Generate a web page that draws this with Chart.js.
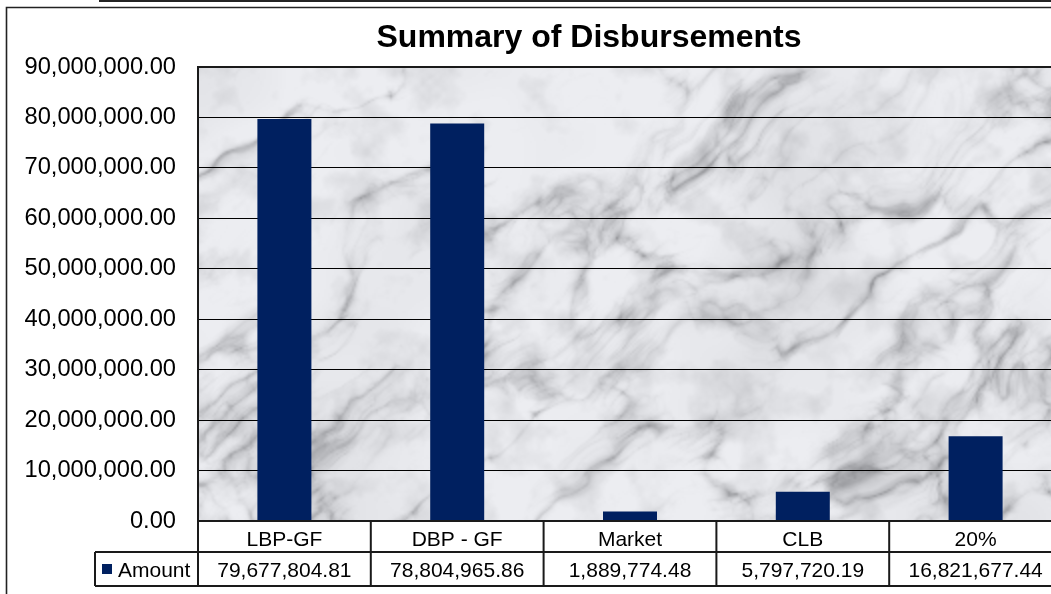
<!DOCTYPE html>
<html>
<head>
<meta charset="utf-8">
<script src="https://cdn.jsdelivr.net/npm/chart.js@4.4.1/dist/chart.umd.min.js"></script>
<style>
  html, body { margin: 0; padding: 0; width: 1051px; height: 594px; overflow: hidden; background: #fff; }
  #wrap { position: absolute; left: 0; top: 0; width: 1180px; height: 594px; }
  canvas { display: block; }
</style>
</head>
<body>
<div id="wrap"><canvas id="c" width="1180" height="594"></canvas></div>
<script>
// ---- data ----
const chartTitle = "Summary of Disbursements";
const categories = ["LBP-GF", "DBP - GF", "Market", "CLB", "20%"];
const seriesName = "Amount";
const amounts = [79677804.81, 78804965.86, 1889774.48, 5797720.19, 16821677.44];
const yMin = 0;
const yMax = 90000000;
const yStep = 10000000;

const FONT = '"Liberation Sans", Arial, sans-serif';
const BAR_COLOR = '#002060';
const LINE_COLOR = '#1a1a1a';

function fmt2(v) {
  return v.toLocaleString('en-US', { minimumFractionDigits: 2, maximumFractionDigits: 2 });
}

// ---- marble texture (decorative background only) ----
function hash(x, y) {
  let h = Math.imul(x | 0, 374761393) + Math.imul(y | 0, 668265263);
  h = Math.imul(h ^ (h >>> 13), 1274126177);
  h = h ^ (h >>> 16);
  return (h >>> 0) / 4294967295;
}
function smooth(t) { return t * t * (3 - 2 * t); }
function vnoise(x, y) {
  const xi = Math.floor(x), yi = Math.floor(y);
  const xf = x - xi, yf = y - yi;
  const a = hash(xi, yi), b = hash(xi + 1, yi), c = hash(xi, yi + 1), d = hash(xi + 1, yi + 1);
  const u = smooth(xf), v = smooth(yf);
  return a + (b - a) * u + (c - a) * v + (a - b - c + d) * u * v;
}
function fbm(x, y, oct) {
  let s = 0, amp = 0.5, f = 1, norm = 0;
  for (let i = 0; i < oct; i++) {
    s += amp * vnoise(x * f, y * f);
    norm += amp; amp *= 0.5; f *= 2;
  }
  return s / norm;
}
function ridged(x, y, oct) {
  let s = 0, amp = 0.5, f = 1, norm = 0;
  for (let i = 0; i < oct; i++) {
    const n = 1 - Math.abs(2 * vnoise(x * f, y * f) - 1);
    s += amp * n * n;
    norm += amp; amp *= 0.5; f *= 2.1;
  }
  return s / norm;
}
let marbleCache = null;
function makeMarble(W, H) {
  const sc = 2;
  const w = Math.ceil(W / sc), h = Math.ceil(H / sc);
  const cv = document.createElement('canvas');
  cv.width = w; cv.height = h;
  const ctx = cv.getContext('2d');
  const img = ctx.createImageData(w, h);
  const d = img.data;
  for (let py = 0; py < h; py++) {
    for (let px = 0; px < w; px++) {
      const X = px * sc, Y = py * sc;
      // domain warp, stretched along a diagonal
      const wx = fbm(X / 120 + 3, Y / 120 + 9, 4);
      const wy = fbm(X / 120 + 21, Y / 120 + 4, 4);
      const u = (X * 0.8 - Y * 0.6) / 95 + wx * 1.6;
      const v = (X * 0.6 + Y * 0.8) / 45 + wy * 1.6;
      const r = ridged(u, v, 5);
      const vein = Math.pow(Math.max(0, r - 0.35) / 0.65, 2.2);
      const m = fbm(X / 28 + 7, Y / 28 + 3, 4);
      const cloud = fbm(X / 150 + 50, Y / 150 + 80, 3);
      let g = 238 - 95 * vein - 50 * Math.max(0, m - 0.5) - 30 * Math.max(0, cloud - 0.45);
      g = Math.max(115, Math.min(246, g));
      const i = (py * w + px) * 4;
      d[i] = g - 2; d[i + 1] = g - 1; d[i + 2] = Math.min(255, g + 3); d[i + 3] = 255;
    }
  }
  ctx.putImageData(img, 0, 0);
  const out = document.createElement('canvas');
  out.width = W; out.height = H;
  const o = out.getContext('2d');
  o.imageSmoothingEnabled = true;
  o.imageSmoothingQuality = 'high';
  o.drawImage(cv, 0, 0, W, H);
  return out;
}

const marblePlugin = {
  id: 'marble',
  beforeDraw(chart) {
    const { ctx, chartArea: a } = chart;
    ctx.save();
    ctx.fillStyle = '#ffffff';
    ctx.fillRect(0, 0, chart.width, chart.height);
    const w = Math.round(a.right - a.left), h = Math.round(a.bottom - a.top);
    if (!marbleCache || marbleCache.width !== w || marbleCache.height !== h) marbleCache = makeMarble(w, h);
    ctx.drawImage(marbleCache, Math.round(a.left), Math.round(a.top));
    ctx.restore();
  }
};

const framePlugin = {
  id: 'frame',
  afterDraw(chart) {
    const { ctx, chartArea: a } = chart;
    const x = chart.scales.x;
    const n = categories.length;
    const cw = (a.right - a.left) / n;
    ctx.save();
    // outer frame
    ctx.strokeStyle = '#222';
    ctx.lineWidth = 2;
    ctx.beginPath(); ctx.moveTo(99, 1); ctx.lineTo(chart.width, 1); ctx.stroke();
    ctx.lineWidth = 1.6;
    ctx.beginPath(); ctx.moveTo(6.5, chart.height); ctx.lineTo(6.5, 7.5); ctx.lineTo(chart.width, 7.5); ctx.stroke();

    // title
    ctx.fillStyle = '#000';
    ctx.font = 'bold 32px ' + FONT;
    ctx.textAlign = 'center';
    ctx.textBaseline = 'alphabetic';
    ctx.fillText(chartTitle, 589, 47);

    // plot border
    ctx.strokeStyle = LINE_COLOR;
    ctx.lineWidth = 2;
    ctx.strokeRect(a.left, a.top, a.right - a.left, a.bottom - a.top);

    // data table
    const r1 = a.bottom, r2 = a.bottom + 31, r3 = a.bottom + 65;
    const legL = 95;
    ctx.beginPath();
    ctx.moveTo(legL, r2); ctx.lineTo(a.right, r2);
    ctx.moveTo(legL, r3); ctx.lineTo(a.right, r3);
    ctx.moveTo(legL, r2); ctx.lineTo(legL, r3);
    for (let i = 0; i <= n; i++) {
      const xx = a.left + i * cw;
      ctx.moveTo(xx, r1); ctx.lineTo(xx, r3);
    }
    ctx.stroke();

    ctx.font = '21px ' + FONT;
    ctx.fillStyle = '#000';
    ctx.textAlign = 'center';
    for (let i = 0; i < n; i++) {
      const cx = x.getPixelForValue(i);
      ctx.fillText(categories[i], cx, r1 + 24.5);
      ctx.fillText(fmt2(amounts[i]), cx, r2 + 25);
    }
    // legend key
    ctx.fillStyle = BAR_COLOR;
    ctx.fillRect(102, r2 + 12, 10, 10);
    ctx.fillStyle = '#000';
    ctx.textAlign = 'left';
    ctx.fillText(seriesName, 118, r2 + 25);
    ctx.restore();
  }
};

new Chart(document.getElementById('c'), {
  type: 'bar',
  data: {
    labels: categories,
    datasets: [{
      label: seriesName,
      data: amounts,
      backgroundColor: BAR_COLOR,
      borderWidth: 0,
      barPercentage: 1 / 3.2,
      categoryPercentage: 1
    }]
  },
  options: {
    responsive: false,
    animation: false,
    events: [],
    layout: { padding: { left: 0, top: 67, right: 118, bottom: 73 } },
    plugins: { legend: { display: false }, title: { display: false }, tooltip: { enabled: false } },
    scales: {
      x: { display: false },
      y: {
        min: yMin, max: yMax,
        afterFit(s) { s.width = 198; },
        border: { display: false },
        grid: { color: '#000', lineWidth: 1, drawTicks: false },
        ticks: {
          stepSize: yStep,
          padding: 22,
          color: '#000',
          font: { family: FONT, size: 23.7 },
          callback: v => fmt2(v)
        }
      }
    }
  },
  plugins: [marblePlugin, framePlugin]
});
</script>
</body>
</html>
